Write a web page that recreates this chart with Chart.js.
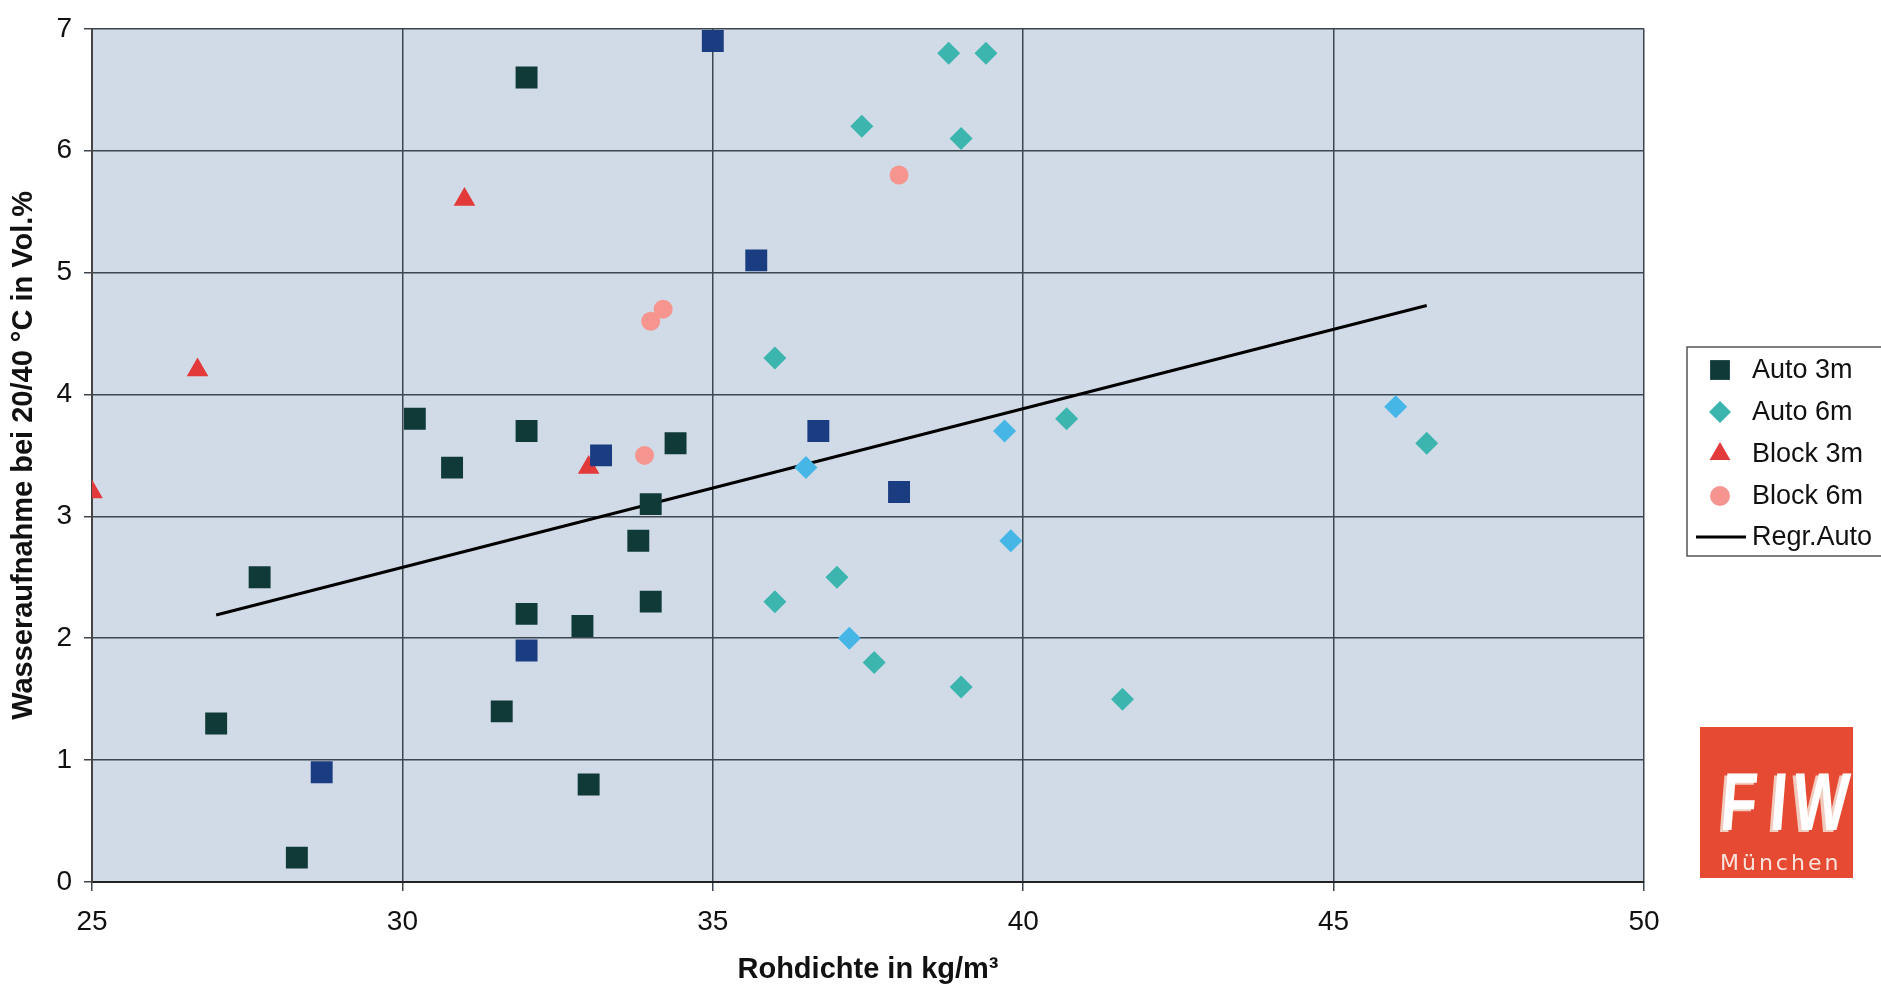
<!DOCTYPE html>
<html><head><meta charset="utf-8">
<script src="https://cdn.jsdelivr.net/npm/chart.js@4/dist/chart.umd.min.js"></script>
<style>html,body{margin:0;padding:0;background:#fff;overflow:hidden}</style>
</head><body>
<canvas id="c" width="1881" height="987" style="width:1881px;height:987px;display:block"></canvas>
<script>
// ---- data ----
const xTickValues = [25, 30, 35, 40, 45, 50];
const yTickValues = [0, 1, 2, 3, 4, 5, 6, 7];
const seriesNames = ["Auto 3m", "Auto 6m", "Block 3m", "Block 6m", "Regr.Auto"];

const auto3mX = [35.0, 32.0, 35.7, 30.2, 32.0, 30.8, 33.2, 34.4, 36.7, 34.0, 33.8, 38.0, 27.7, 32.0, 32.9, 34.0, 32.0, 31.6, 27.0, 28.7, 33.0, 28.3];
const auto3mY = [6.9, 6.6, 5.1, 3.8, 3.7, 3.4, 3.5, 3.6, 3.7, 3.1, 2.8, 3.2, 2.5, 2.2, 2.1, 2.3, 1.9, 1.4, 1.3, 0.9, 0.8, 0.2];

const auto6mX = [38.8, 39.4, 37.4, 39.0, 36.0, 39.7, 40.7, 36.5, 39.8, 37.0, 36.0, 37.2, 37.6, 39.0, 41.6, 46.0, 46.5];
const auto6mY = [6.8, 6.8, 6.2, 6.1, 4.3, 3.7, 3.8, 3.4, 2.8, 2.5, 2.3, 2.0, 1.8, 1.6, 1.5, 3.9, 3.6];

const block3mX = [25.0, 26.7, 31.0, 33.0];
const block3mY = [3.2, 4.2, 5.6, 3.4];

const block6mX = [38.0, 34.0, 34.2, 33.9];
const block6mY = [5.8, 4.6, 4.7, 3.5];

const regrX = [27.0, 46.5];
const regrY = [2.19, 4.73];

// ---- styles ----
const C_DARK = '#0f3a38', C_NAVY = '#1a3c80';
const C_TEAL = '#3bb5ae', C_SKY = '#46b6e6';
const auto3mColors = [C_NAVY, C_DARK, C_NAVY, C_DARK, C_DARK, C_DARK, C_NAVY, C_DARK, C_NAVY, C_DARK, C_DARK, C_NAVY, C_DARK, C_DARK, C_DARK, C_DARK, C_NAVY, C_DARK, C_DARK, C_NAVY, C_DARK, C_DARK];
const auto6mColors = [C_TEAL, C_TEAL, C_TEAL, C_TEAL, C_TEAL, C_SKY, C_TEAL, C_SKY, C_SKY, C_TEAL, C_TEAL, C_SKY, C_TEAL, C_TEAL, C_TEAL, C_SKY, C_TEAL];
const C_RED = '#e2393a', C_PINK = '#f6958f';

const zip = (xs, ys) => xs.map((x, i) => ({x, y: ys[i]}));

const TICK_FONT = {family: "'Liberation Sans',Arial,sans-serif", size: 28};
const TITLE_FONT = {family: "'Liberation Sans',Arial,sans-serif", size: 29, weight: 'bold'};

const bgPlugin = {
  id: 'bg',
  beforeDraw(chart) {
    const {ctx, chartArea: a} = chart;
    ctx.save();
    ctx.fillStyle = '#d1dbe7';
    ctx.fillRect(a.left, a.top, a.right - a.left, a.bottom - a.top);
    ctx.restore();
  }
};

const legendPlugin = {
  id: 'customLegend',
  afterDraw(chart) {
    const ctx = chart.ctx;
    ctx.save();
    ctx.fillStyle = '#ffffff';
    ctx.fillRect(1687, 347, 220, 209);
    ctx.strokeStyle = '#555';
    ctx.lineWidth = 1.5;
    ctx.strokeRect(1687, 347, 220, 209);
    const ys = [370, 412, 454, 496, 537];
    const mx = 1720;
    const items = [
      {style: 'rect', r: 14, color: C_DARK},
      {style: 'rectRot', r: 11, color: C_TEAL},
      {style: 'triangle', r: 12, color: C_RED},
      {style: 'circle', r: 10, color: C_PINK},
      {style: 'line'}
    ];
    items.forEach((it, i) => {
      const y = ys[i];
      if (it.style === 'line') {
        ctx.strokeStyle = '#000';
        ctx.lineWidth = 3;
        ctx.beginPath(); ctx.moveTo(1696, y); ctx.lineTo(1746, y); ctx.stroke();
      } else {
        ctx.fillStyle = it.color;
        ctx.strokeStyle = it.color;
        Chart.helpers.drawPoint(ctx, {pointStyle: it.style, radius: it.r, rotation: 0, borderWidth: 0}, mx, y);
      }
      ctx.fillStyle = '#111';
      ctx.font = "27px 'Liberation Sans',Arial,sans-serif";
      ctx.textBaseline = 'middle';
      ctx.textAlign = 'left';
      ctx.fillText(seriesNames[i], 1752, y + 1);
    });
    // logo
    ctx.fillStyle = '#e64a33';
    ctx.fillRect(1700, 727, 153, 151);
    ctx.font = "bold 82px 'Liberation Sans',Arial,sans-serif";
    ctx.textAlign = 'center';
    ctx.textBaseline = 'alphabetic';
    const letters = [['F', 1737], ['I', 1777], ['W', 1819]];
    letters.forEach(([ch, cx]) => {
      ctx.save();
      ctx.translate(cx, 830);
      ctx.transform(0.72, 0, -0.08, 1, 0, 0);
      ctx.fillStyle = '#f2cbbf';
      ctx.fillText(ch, -4, 2);
      ctx.fillStyle = '#ffffff';
      ctx.fillText(ch, 0, 0);
      ctx.restore();
    });
    ctx.font = "22px 'DejaVu Sans',sans-serif";
    ctx.fillStyle = '#fbe3dc';
    ctx.textAlign = 'left';
    ctx.letterSpacing = '3px';
    ctx.fillText('M\u00fcnchen', 1720, 870);
    ctx.letterSpacing = '0px';
    ctx.restore();
  }
};

new Chart(document.getElementById('c'), {
  type: 'scatter',
  data: {
    datasets: [
      {label: seriesNames[4], type: 'line', data: zip(regrX, regrY), borderColor: '#000', borderWidth: 3, pointRadius: 0, fill: false, order: 5},
      {label: seriesNames[2], data: zip(block3mX, block3mY), pointStyle: 'triangle', pointRadius: 12.5, backgroundColor: C_RED, borderWidth: 0, order: 4},
      {label: seriesNames[3], data: zip(block6mX, block6mY), pointStyle: 'circle', pointRadius: 9.5, backgroundColor: C_PINK, borderWidth: 0, order: 3},
      {label: seriesNames[1], data: zip(auto6mX, auto6mY), pointStyle: 'rectRot', pointRadius: 11.5, backgroundColor: auto6mColors, borderWidth: 0, order: 2},
      {label: seriesNames[0], data: zip(auto3mX, auto3mY), pointStyle: 'rect', pointRadius: 15.5, backgroundColor: auto3mColors, borderWidth: 0, order: 1}
    ]
  },
  options: {
    responsive: false,
    animation: false,
    devicePixelRatio: 1,
    layout: {padding: {top: 24, right: 237, left: 0, bottom: 0}},
    plugins: {legend: {display: false}, tooltip: {enabled: false}},
    scales: {
      x: {
        type: 'linear', min: 25, max: 50,
        afterBuildTicks: s => { s.ticks = xTickValues.map(v => ({value: v})); },
        afterFit: s => { s.height = 105; },
        ticks: {font: TICK_FONT, color: '#111', padding: 14, maxRotation: 0},
        grid: {color: '#3c4650', lineWidth: 1.5, tickLength: 9, drawTicks: true},
        border: {color: '#222', width: 2},
        title: {display: true, text: 'Rohdichte in kg/m\u00b3', font: TITLE_FONT, color: '#111', padding: {top: 0, bottom: 0}}
      },
      y: {
        type: 'linear', min: 0, max: 7,
        afterBuildTicks: s => { s.ticks = yTickValues.map(v => ({value: v})); },
        afterFit: s => { s.width = 92; },
        ticks: {font: TICK_FONT, color: '#111', padding: 12},
        grid: {color: '#3c4650', lineWidth: 1.5, tickLength: 8, drawTicks: true},
        border: {color: '#444', width: 2},
        title: {display: true, text: 'Wasseraufnahme bei 20/40 \u00b0C in Vol.%', font: TITLE_FONT, color: '#111', padding: {top: 7, bottom: 0}}
      }
    }
  },
  plugins: [bgPlugin, legendPlugin]
});
</script>
</body></html>
